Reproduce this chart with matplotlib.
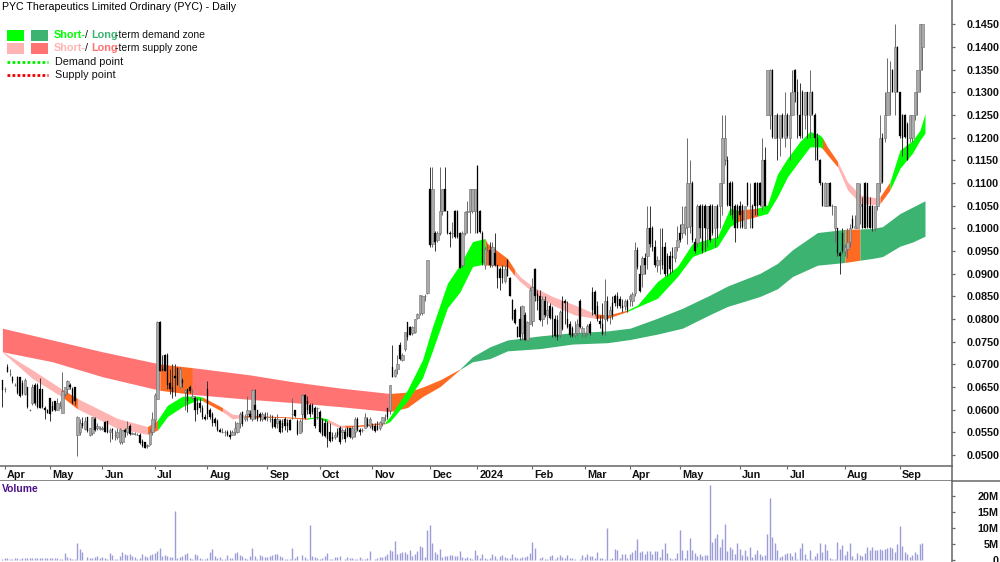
import numpy as np
import matplotlib
matplotlib.use('Agg')
import matplotlib.pyplot as plt
from matplotlib.lines import Line2D
from matplotlib.patches import Rectangle

plt.rcParams['font.family'] = ['Liberation Sans', 'DejaVu Sans']

# daily candles by month, (open, high, low, close) in 0.001 dollars
mar23 = [(66.6,66.6,60.7,64.4)]
apr23 = [(64.5,65,64,64.5),(69.5,70,68.4,68.4),(68,69,67.5,68),(67.3,67.5,66,66.4),(65.5,65.8,65.2,65.5),(67.3,67.5,63.5,63.6),
         (67.2,67.3,62.8,63),(66,66.5,63.3,63.4),(63.4,67,63.3,66.5),(65,65,60.5,60.7),(60,60.2,59.8,60),(61.5,65.7,61,65),
         (65.5,66,61,61.5),(65.4,66,60.5,60.6),(64.5,67,60.4,60.5),(64.5,64.5,60.4,60.6),(60.5,60.8,58,60),(60,60.2,59.2,59.2)]
may23 = [(62.7,62.7,57.5,59),(60.8,62,59.8,59.8),(62,62,59.8,60),(60,62.5,60,61.5),(60.5,62,60.5,60.8),(59.3,68.3,59.2,64.2),
         (63.5,65,63,65),(64.5,66.5,63.5,66.3),(65.5,65.8,64.5,65),(64.5,65,61.3,61.4),(65,65,61,62),(54.4,58.6,49.7,58.5),
         (55,58,54.5,57),(57,58.3,56,56.5),(55.8,58.5,55.5,57.5),(58.4,58.5,55,55.3),(54.5,56,54.3,56),(54.8,58.5,54.5,58.3),
         (58,58.3,55.4,55.5),(56,57,55.6,56.5),(55.8,56.5,55.6,56)]
jun23 = [(55.8,56.5,55.6,56),(57.3,57.5,55,55.2),(57.5,57.5,54.8,55),(55,56,52.8,55.5),(55.8,56,53.5,55.5),(54.5,55.5,53.3,54.5),
         (54,56,53.5,55),(53,56,52.5,55.8),(52.8,55.5,52.5,55.5),(55.5,56,54,55),(55,57.5,54.5,56),(56.5,56.8,54.5,54.6),
         (54.7,55,54.6,54.8),(54.6,55,54.5,54.7),(54.5,54.8,54.4,54.5),(54.5,54.8,52.5,52.6),(53.2,53.5,51.8,52),(53,53,51.5,51.6),
         (52,52.5,51.5,52.3),(52.5,56,52.3,55),(55,59.5,54.5,58)]
jul23 = [(57.7,63.6,56,63.3),(62.4,79.5,62.3,79.4),(79.4,79.5,68.5,68.6),(69,72,68.5,68.8),(72,72.2,68.5,68.6),(72,72.5,64.5,65.5),
         (66,69,63.5,64.5),(65,70,62.5,64),(67.5,70,63,67),(69.3,69.5,65.5,65.5),(65,69.5,64.8,69),(66.5,67,65,66),
         (64,64.5,60,64.3),(64.5,64.5,59.5,62),(65,65.5,63.8,64.2),(62.5,64.5,62.3,63),(62.5,63,57.5,60),(61.5,62.5,59,60),
         (61.5,62.5,59.5,60.5),(60.5,61,58,58.5),(58.5,59,57.7,58)]
aug23 = [(64.5,66.3,58,59),(60,60.5,58,58.5),(59,59.5,56.5,57),(58,58.5,56.5,57),(57.5,58,55.3,55.5),(55.5,56,55,55.2),
         (55,56,54.8,55.2),(55,55.5,54.3,55),(55,55.5,54.2,54.5),(54.5,55.5,53.5,54),(54.5,55.5,54.5,55),(55,57.5,54.5,56),
         (55,57.2,54.8,57),(57,59.5,56,59),(59.5,59.7,56.5,56.8),(58,59,57.5,58.5),(59,63,57.5,60),(59,60,58,58.5),
         (58,64.5,57.5,64.3),(61,64.5,58,60),(60,60,57.5,58),(59,59.5,57.5,58.5),(58,59.5,57.5,59),(58.5,59.5,57.7,58)]
sep23 = [(58.5,59.5,57.5,58.5),(58,59,57.2,58),(58,58.8,56,56.2),(58,58.5,56,56.3),(57,59,56,58),(57.5,58,54.8,55),
         (57,58,55,56),(58,58.5,55.5,56.5),(57,58,55,56.5),(57.8,58,55.5,55.6),(59,62.5,58,59),(60,60,58.5,58.6),
         (57.5,58,54.5,54.6),(54.8,58,54.8,57.5),(59,63.5,55,63.3),(63.3,63.5,58,58.2),(62,63,59,60),(61,61.5,58.5,59),
         (61,61.5,59,59.5),(60.5,60.8,56,56.5),(60.5,60.7,58,60.5)]
oct23 = [(59.5,60,54.8,55),(58,58,54.3,54.5),(57,58,54,54.2),(57,57.5,51.8,53.5),(55,57,53,53.2),(54,55,53.2,53.5),
         (54,55,53.5,54.5),(55,56,54,54.5),(56,56.5,52.5,53),(55,56,53.5,55.5),(55,56,53,53.5),(56,56.2,54,54.2),
         (56,56,53.8,54),(54,56.5,53.5,56),(55,58.5,54,58),(58,58.5,55.3,55.5),(55.5,56,54.5,55),(55.5,56,55,55.5),
         (56,59.2,56,58.5),(58,58.5,56.3,56.5),(56.5,58.5,56,58)]
nov23 = [(56.5,57,55.5,55.7),(56.5,57,55.2,55.3),(56.5,57.5,55.5,55.6),(56,57.5,55.5,57.3),(57,58.5,56.5,58.3),(58,59,57.5,58),
         (60.3,60.5,58,58.5),(60,65.5,59,65.5),(69.5,74.3,67.2,67.3),(67.5,69,67.3,68.8),(69,72,68,70),(74.3,75,71,71.3),
         (71,72.5,70.8,72),(73.5,77.2,73,77.2),(79.3,79.3,75.5,76.1),(78.3,78.5,76.5,76.6),(77,78.5,76.5,78.3),(77.2,80,77,80),
         (80.2,81.3,80,81.2),(81.3,85.3,81,85.3),(81.3,85.3,81,85),(85,85.5,84,85.2),(85.7,93,85.5,93)]
dec23 = [(108.8,113.6,96,96.3),(96.5,113.6,96,108.8),(99,99.5,95,97),(97.5,99.5,97,99),(99,113.6,98.5,103.8),(103.8,108.8,103,108.8),
         (108.8,113.6,103.8,103.9),(103.8,103.9,98.8,99),(99,99.5,96,98.8),(99,101.5,98,99),(103.8,104,98,98.2),(103.8,104,98,98.2),
         (99,99.3,91.2,91.3),(92,99.5,91.5,99),(99,103.8,98.5,103.6),(103.6,106,99,103.8),(103.8,108.8,99,108.8),(103.8,108.8,103.5,108.7),
         (103.8,108.8,99,108.7)]
jan24 = [(113.8,113.9,99,99),(103.8,104,99,99.2),(99,99.5,92,92.3),(92,96,91,95.5),(96,96.5,95,96),(95.2,97,91.5,92),
         (92,97,91.5,96),(94.5,99,91.8,92),(91.9,92,86.8,89),(91,91.5,86.5,89),(91,92,88,89),(88.5,92,88,91),
         (93,93.2,89.5,89.6),(89,89.3,85,85.1),(84.2,84.5,79.8,80),(82,82.5,79,79.1),(78.3,78.5,76,76.1),(80,83,75.5,76),
         (77,83.2,75.3,83),(81,81.5,75.3,75.5),(75.5,79.5,75.4,79.3),(79,87,79,86.5)]
feb24 = [(79.5,89,78.5,87),(91,91.2,84,85),(85.5,86.5,82,84),(85,86.5,79.5,79.8),(80,85,78.5,84.5),(84,85,80.5,81),
         (81,84,79,82),(83,83.5,80,80.2),(82.5,83,76,80),(80,81,76,76.2),(79.8,81,75.5,76),(76.5,82,76,81.5),
         (84,85,77.5,77.8),(84,84.5,79,83.5),(80,84,78,78.2),(79,79.5,76,76.5),(78,78.5,76,76.2),(76.5,79.5,76,77),
         (77,80,76.5,79),(84,84.5,78,78.2),(77,78.5,76,78)]
mar24 = [(76.5,77,76,76.5),(77,79,76.5,78.5),(79,79.5,76.5,77),(86,87,81,82),(86,86.5,81,81.2),(83,84,79.5,80),
         (79.5,81,78,79),(79,83.5,76.5,76.8),(80,88.8,76.5,84),(84,85,79.5,80),(81,83,79,82),(83.5,85,80,81),
         (85,85.5,83,83.5),(85,86,82.5,83),(84.5,85,82.5,83),(83,84.5,81.5,82.5),(83,84.5,82,84),(84,84.5,81.5,82)]
apr24 = [(84.5,85.5,83,85),(84,86,83,85.5),(85.7,97,85,95.2),(95.2,96,91,91.5),(90,92,86,86.2),(90,94,87,93.5),
         (93.5,94.5,90,92),(94,105,91,100),(100,105,96,96.5),(100,100.5,95,96),(96,97.5,91.5,92),(92,94,90.5,93),
         (93,100,90,93),(96,100,91,92),(96,97,89.5,90),(94,94.5,89.5,90),(94,95,90,91),(94,96,90.5,93.5),
         (93.5,96,92.5,96),(96,100.5,95,97.5)]
may24 = [(99,101,97,97.5),(99,105,98,101),(100,105,98.5,104.8),(100.4,120,96.5,110),(100.5,115,99,110),(110,110.5,97,97.5),
         (97,98,94.5,95),(96.7,105.5,96,105),(105,105.5,98,100),(105,105.5,94.5,95),(105,105.5,95,100),(100,105,96,105),
         (105,105.5,97,97.5),(105,105.5,98.5,99),(100,105,96,105),(105,105.5,98,100),(105,110,100,110),(110,125,103,120),
         (115,125,114,120),(115,116,105,105.2),(110,110.5,103,105),(110,110.5,102,103),(105,105.5,97,100),(105,105.5,100,100.2)]
jun24 = [(105,106,100,103),(105,105.5,100,100.3),(100.2,105,100,105),(110,110.3,105,105.2),(105,110,100,105),(105,105.5,100,100.2),
         (110,110.3,103,105),(110,110.3,103,105),(110,110.2,105,105.1),(105,120,104,115),(115,118,105,105),(125,135,125,135),
         (125,135.2,122,135),(135,135.2,120,120.2),(120,125,120,125),(125,125.5,115,120),(120,125,116,125),(125,125.5,120,120.2),
         (120,130,118,125)]
jul24 = [(125,125.5,120,120.3),(120,130,115,125),(125,135,125,130),(135,135.2,128,130),(130,133,120,125),(125,132,120,120.5),
         (130,130.5,120,125),(125,130,122,130),(130,130.2,120,125),(125,135,120,130),(130,130.3,125,125.2),(125,125.5,115,120),
         (120,121,115,115.2),(115,115.3,109.5,110),(110,110.3,105,105),(105,110.3,105,110),(105,110,105,110),(110,110.2,105,105),
         (105,105.3,103,105),(100,105,97,105),(100,100.2,94,94.5),(94.5,95,90,94),(99,100,94.5,95)]
aug24 = [(95,96.5,94,96),(95.5,100,93.5,97),(97,101,96,100),(102,103,100,100.2),(100,103,100,100.5),(100,110,100,110),
         (105,110,101,105.5),(105.5,107,100,100.2),(110,110.3,100,100.2),(110,110,100,100.3),(105,107,100,100.2),(105,105.2,99.5,100),
         (100,105,99.5,105),(105,110,104,110),(110,125,108,120),(120,121,110,110.3),(120,130,119,125),(125,137.5,125,130),
         (130,137,125,130),(135,135.2,130,130.2),(130,145,125,140),(140,140.2,130,130.2)]
sep24 = [(130,130.2,120,120.3),(125,125.3,116,120),(125,125.3,120,120.2),(123,123.5,115,115.2),(120,125,119,125),(120,125,119,125),
         (125,130,124,130),(130,135,125,135),(135,145,130,145),(140,145,135,145)]

# daily volume by month, in millions
vol_mar23 = [0.3]
vol_apr23 = [0.5,0.6,0.4,0.3,0.8,0.7,0.2,0.5,0.6,0.5,0.7,0.6,0.7,0.8,0.7,0.7,0.6,0.5]
vol_may23 = [0.6,0.8,0.5,0.7,0.4,0.3,2.1,1.0,0.5,0.3,0.4,5.2,3.6,2.5,0.1,0.9,0.7,0.8,1.0,1.2,0.7]
vol_jun23 = [0.9,0.8,0.2,2.2,1.6,0.2,0.3,1.2,2.4,1.9,1.7,1.8,1.3,0.9,0.4,0.7,2.0,1.2,1.0,1.6,2.0]
vol_jul23 = [2.2,2.9,3.8,1.3,1.6,1.3,1.1,1.0,15.2,0.8,0.9,1.2,1.8,2.3,0.7,0.2,2.0,1.6,0.6,0.3,0.4]
vol_aug23 = [0.6,2.4,3.5,1.3,0.7,0.9,0.4,0.2,1.7,0.8,0.6,2.3,2.4,1.5,1.2,0.8,0.4,1.2,3.8,1.2,0.2,1.6,1.3,1.1]
vol_sep23 = [1.0,1.4,1.6,1.9,1.8,1.2,1.1,0.3,0.2,0.4,3.8,0.7,1.2,0.1,1.5,0.9,0.3,11,1.4,0.9,0.7]
vol_oct23 = [0.4,0.6,1.2,2.1,0.3,0.2,1.0,1.1,1.2,0.1,0.2,0.9,0.6,0.5,0.3,0.4,1.0,0.4,0.3,0.6,2.8]
vol_nov23 = [0.1,0.3,0.5,0.9,1.1,1.2,1.8,3.2,2.7,6.0,1.8,2.2,2.5,2.6,1.9,3.3,1.4,1.8,2.9,4.4,4.2,1.0,9.4]
vol_dec23 = [11,5.3,2.5,1.8,3.6,1.0,1.2,1.3,1.6,1.5,1.4,1.2,2.9,1.1,0.7,0.9,0.6,0.3,3.0]
vol_jan24 = [1.7,0.6,2.0,0.5,0.3,0.6,1.8,1.2,0.4,1.4,1.6,1.0,0.7,0.8,2.0,1.0,0.6,0.5,0.9,1.1,1.2,2.1]
vol_feb24 = [5.8,3.8,0.1,0.8,1.1,0.3,0.2,1.4,1.5,0.3,1.0,1.5,0.9,0.6,1.5,0.7,0.5,0.2,0.1,0.3,1.6]
vol_mar24 = [1.0,1.8,1.4,1.2,0.7,2.5,0.8,0.5,0.3,10.1,0.3,0.5,3.4,3.2,0.7,2.0,1.8,0.6]
vol_apr24 = [1.8,2.6,3.0,6.5,2.5,2.8,2.0,2.8,2.8,1.8,2.9,2.7,1.1,3.5,5.2,2.1,0.5,0.3,0.5,2.3]
vol_may24 = [9.5,3.0,0.8,3.3,7.0,3.0,2.2,1.2,1.9,1.4,1.5,1.6,23.5,5.8,6.9,8.1,4.0,6.5,11.2,2.7,4.0,3.6,1.9,5.4]
vol_jun24 = [3.4,1.7,3.0,1.3,4.1,1.1,1.9,3.2,2.0,1.2,1.6,8.1,19.5,7.3,5.2,3.0,1.0,1.2,1.8]
vol_jul24 = [2.2,2.3,1.4,2.4,0.3,3.8,5.2,2.0,0.2,3.3,0.2,1.4,2.2,5.3,2.6,5.0,3.0,0.6,0.4,0.3,5.5,3.5,4.7]
vol_aug24 = [1.7,2.9,5.2,1.2,0.4,2.1,1.6,1.2,2.2,4.0,3.0,4.2,3.3,3.0,3.5,3.2,3.5,3.8,4.0,3.9,2.5,5.0]
vol_sep24 = [10.6,4.5,2.6,1.9,1.0,1.6,2.4,1.9,4.9,5.2]

month_labels = ['Apr','May','Jun','Jul','Aug','Sep','Oct','Nov','Dec','2024','Feb','Mar','Apr','May','Jun','Jul','Aug','Sep']

# zones, read at these bar numbers
long_bars = [0,20,40,63,76,99,116,135,155,162,168,175,183,188,195,202,215,228,242,251,262,272,283,290,296,303,310,316,326,337,343,348,352,359,364,369]
long_top = [78,75.4,72.8,70.1,69.3,67.7,66.2,64.8,63.6,63.9,65,66.6,69,71.7,73.9,75.4,76.3,77,77.4,78,80.2,82.4,85.3,87.3,88.6,90.1,92.3,95.3,99.1,99.8,99.9,100,100.4,103.3,104.7,106.1]
long_bot = [72.8,70.6,67.3,64.3,63.4,62.3,61.6,60.7,59.6,60.5,62.9,65.1,68.9,70.6,71.3,73,73.5,74.5,74.8,75.5,76.7,78,81,82.8,83.8,85,86.7,89.4,91.9,92.5,93,93.4,93.8,96.1,97,98.3]
long_colours = [(0,63,'supply'),(63,76,'mixed'),(76,155,'supply'),(155,183,'mixed'),(183,337,'demand'),(337,343,'mixed'),(343,369,'demand')]

short_bars = [0,12,24,30,46,58,62,66,72,78,80,88,92,97,112,122,126,130,135,137,142,148,153,155,162,168,172,178,183,188,193,194,202,205,207,212,220,229,237,242,250,254,262,270,276,286,291,294,302,306,310,314,319,323,327,328,330,334,338,343,350,351,355,359,364,367,369]
short_top = [72.9,68.8,64.5,62.5,58.1,56.3,57.7,61,63,63,62.8,60.5,59,58.8,58.5,58.2,58.5,58,56.6,56.6,56.6,57,57.2,58.5,64.4,71,78.3,87.9,92,97.1,97.8,96.7,93.4,90.8,89.4,87.2,85,83.1,81.2,80.9,82,83.1,88.3,91.6,96.7,98.2,104.5,104,104.5,105.2,112,115.5,119.2,121.4,120.6,120,118,114.8,110.3,107.4,106.7,107,110.3,117.3,119.4,121.7,125.3]
short_bot = [72.7,66.9,62.8,60.2,55.9,54.6,55.5,58.5,60.7,62.2,62,59.6,58,58.4,58.3,57.9,58.3,57.2,56,56.1,56.3,56.6,56.9,57.4,62,67,73,82.5,86,91.6,92.2,91.9,91.6,89.5,88.3,86,83.1,80.9,80.2,80.2,81.7,82.7,84.6,89.4,93.8,96,100.4,101.5,102.7,103.3,107,111.4,115.1,118,118,117.6,116.2,113.6,108.5,105.6,105.2,105.5,108.5,113.3,116.6,119.5,121]
short_colours = [(0,24,'supply'),(24,30,'mixed'),(30,58,'supply'),(58,62,'mixed'),(62,80,'demand'),(80,88,'mixed'),(88,97,'supply'),(97,122,'mixed'),
                 (122,130,'demand'),(130,137,'supply'),(137,153,'mixed'),(153,193,'demand'),(193,205,'mixed'),(205,237,'supply'),(237,250,'mixed'),
                 (250,294,'demand'),(294,302,'mixed'),(302,328,'demand'),(328,334,'mixed'),(334,351,'supply'),(351,355,'mixed'),(355,369,'demand')]

price_ticks = [50+5*i for i in range(20)]
volume_ticks = [0,5,10,15,20]

long_fill = {'supply':'#ff7373','mixed':'#ff6a22','demand':'#3cb371'}
short_fill = {'supply':'#ffb4b4','mixed':'#ff6a22','demand':'#00ff00'}


def draw_zone(ax, bars, top, bot, regimes, fills):
    bars = np.array(bars)
    top = np.array(top) / 1000
    bot = np.array(bot) / 1000
    for start, end, kind in regimes:
        m = (bars >= start) & (bars <= end)
        ax.fill_between(bars[m], bot[m], top[m], color=fills[kind], lw=0, zorder=2)


def px_ax(fig, left, top, right, bottom):
    return fig.add_axes([left/1000, 1-bottom/562, (right-left)/1000, (bottom-top)/562])


candle_months = [mar23,apr23,may23,jun23,jul23,aug23,sep23,oct23,nov23,dec23,jan24,feb24,mar24,apr24,may24,jun24,jul24,aug24,sep24]
volume_months = [vol_mar23,vol_apr23,vol_may23,vol_jun23,vol_jul23,vol_aug23,vol_sep23,vol_oct23,vol_nov23,vol_dec23,
                 vol_jan24,vol_feb24,vol_mar24,vol_apr24,vol_may24,vol_jun24,vol_jul24,vol_aug24,vol_sep24]
ohlc = np.array(sum(candle_months, [])) / 1000
volume = np.array(sum(volume_months, []))
bars = np.arange(len(ohlc))
month_starts = np.cumsum([len(m) for m in candle_months])[:-1]

opens, highs, lows, closes = ohlc.T
up = closes >= opens

fig = plt.figure(figsize=(10, 5.62), dpi=100)
xlim = (-0.96, 379.8)
axis_grey = '#666666'
text_dark = '#111111'

ax = px_ax(fig, 0, 0, 952, 466)
ax.set_xlim(xlim)
ax.set_ylim(0.0476, 0.1504)
draw_zone(ax, long_bars, long_top, long_bot, long_colours, long_fill)
draw_zone(ax, short_bars, short_top, short_bot, short_colours, short_fill)

ax.vlines(bars[up], lows[up], highs[up], color='#6a6a6a', lw=0.7, zorder=3)
ax.vlines(bars[~up], lows[~up], highs[~up], color='#333333', lw=0.7, zorder=3)
ax.bar(bars[up], (closes-opens)[up], bottom=opens[up], width=0.9, color='#aaaaaa', edgecolor='#6e6e6e', lw=0.4, zorder=4)
ax.bar(bars[~up], (opens-closes)[~up], bottom=closes[~up], width=0.72, color='black', edgecolor='black', lw=0.2, zorder=4)

ax.yaxis.tick_right()
ax.set_yticks([t/1000 for t in price_ticks])
ax.set_yticklabels(['%.4f' % (t/1000) for t in price_ticks], fontsize=7.8, fontweight='bold', color=text_dark)
ax.tick_params(axis='y', length=2.2, width=0.9, color=axis_grey, pad=8.6)
ax.set_xticks([])
for s in ['top','left','bottom']:
    ax.spines[s].set_visible(False)
ax.spines['right'].set_color(axis_grey)
ax.spines['right'].set_linewidth(1.1)

# month strip
ax_d = px_ax(fig, 0, 466, 952, 481)
ax_d.set_xlim(xlim)
ax_d.set_ylim(0, 1)
ax_d.set_yticks([])
ax_d.set_xticks(month_starts)
ax_d.set_xticklabels([])
ax_d.tick_params(axis='x', direction='in', top=True, bottom=False, length=2, width=0.8, color=axis_grey)
for i, lab in zip(month_starts, month_labels):
    ax_d.text(i + 0.8, 0.42, lab, fontsize=7.8, fontweight='bold', color=text_dark, ha='left', va='center')
ax_d.spines['left'].set_visible(False)
for s in ['top','bottom','right']:
    ax_d.spines[s].set_color(axis_grey)
    ax_d.spines[s].set_linewidth(1.1)

# volume
ax_v = px_ax(fig, 0, 481, 952, 562)
ax_v.set_xlim(xlim)
ax_v.set_ylim(-0.6, 24.7)
ax_v.vlines(bars, 0, volume, color='#9c9cd8', lw=1.0)
ax_v.yaxis.tick_right()
ax_v.set_yticks(volume_ticks)
ax_v.set_yticklabels(['0' if t == 0 else '%dM' % t for t in volume_ticks], fontsize=7.8, fontweight='bold', color=text_dark, ha='right')
ax_v.tick_params(axis='y', length=2.2, width=0.9, color=axis_grey, pad=31.5)
ax_v.set_xticks([])
for s in ['top','left','bottom']:
    ax_v.spines[s].set_visible(False)
ax_v.spines['right'].set_color(axis_grey)
ax_v.spines['right'].set_linewidth(1.1)
fig.add_artist(Line2D([0.952, 1], [1-481/562, 1-481/562], transform=fig.transFigure, color=axis_grey, lw=1.1))


def label(x, y, s, **kw):
    kw.setdefault('fontsize', 7.8)
    kw.setdefault('color', text_dark)
    fig.text(x/1000, 1-y/562, s, va='center', ha='left', **kw)


label(2, 7, 'PYC Therapeutics Limited Ordinary (PYC) - Daily', fontsize=7.7, color='black')
label(2, 489, 'Volume', fontsize=7.4, fontweight='bold', color='#4b0f87')

swatches = [(7,30,'#00ff00'),(31,30,'#3cb371'),(7,43,'#ffb4b4'),(31,43,'#ff7373')]
for sx, sy, c in swatches:
    fig.add_artist(Rectangle((sx/1000, 1-(sy+11)/562), 17/1000, 11/562, transform=fig.transFigure, color=c, lw=0))

label(54, 35, 'Short-', color='#00ff00', fontweight='bold')
label(85, 35, '/')
label(91, 35, 'Long', color='#3cb371', fontweight='bold')
label(115, 35, '-term demand zone', fontsize=7.5)
label(54, 48, 'Short-', color='#ffb4b4', fontweight='bold')
label(85, 48, '/')
label(91, 48, 'Long', color='#ff7373', fontweight='bold')
label(115, 48, '-term supply zone', fontsize=7.5)
label(55, 62, 'Demand point')
label(55, 75, 'Supply point')
for ly, c in [(62, '#00ee00'), (74.5, '#ee0000')]:
    fig.add_artist(Line2D([7/1000, 48/1000], [1-ly/562, 1-ly/562], transform=fig.transFigure, color=c, lw=2, linestyle=(0, (1, 0.8))))

fig.savefig('out.png', dpi=100)
